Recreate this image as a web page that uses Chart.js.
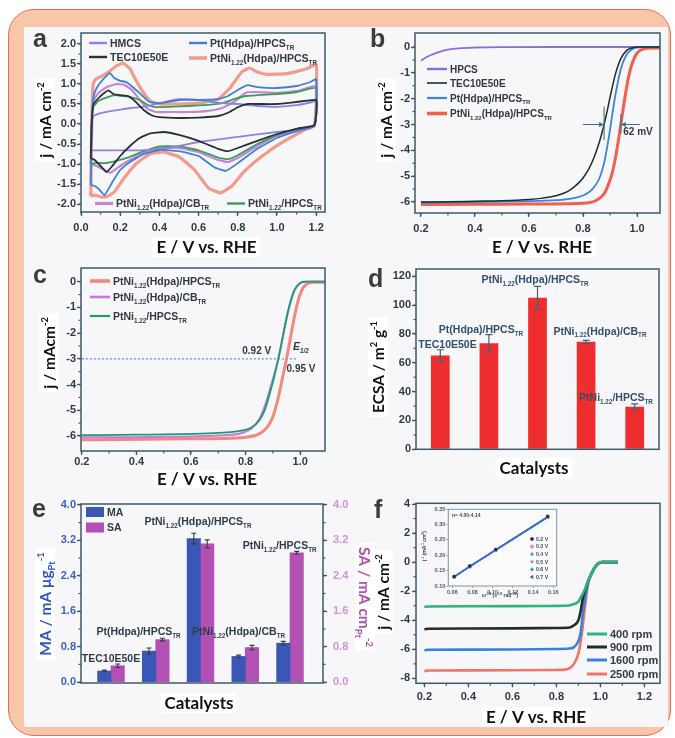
<!DOCTYPE html>
<html lang="en">
<head>
<meta charset="utf-8">
<title>PtNi catalysts – electrochemical characterisation</title>
<script src="https://cdn.jsdelivr.net/npm/chart.js@4.4.1/dist/chart.umd.min.js"></script>
<style>
  html, body { margin: 0; padding: 0; background: #ffffff; }
  body { position: relative; width: 675px; height: 738px; overflow: hidden; }
  #frame { position: absolute; left: 8px; top: 9px; width: 661px; height: 725px;
           border: 1.5px solid #ec6b5b; border-radius: 26px; background: #f8c6a8; }
  #sheet { position: absolute; left: 24px; top: 27px; width: 644px; height: 700px; background: #f7f7f9; }
  canvas { position: absolute; left: 0; top: 0; }
</style>
</head>
<body>
<div id="frame"></div>
<div id="sheet"></div>
<canvas id="panelA" width="675" height="738"></canvas>
<canvas id="panelB" width="675" height="738"></canvas>
<canvas id="panelC" width="675" height="738"></canvas>
<canvas id="panelD" width="675" height="738"></canvas>
<canvas id="panelE" width="675" height="738"></canvas>
<canvas id="panelF" width="675" height="738"></canvas>
<canvas id="panelFinset" width="675" height="738"></canvas>
<script>
// ================= data =================
// (a) cyclic voltammograms, [E / V vs. RHE, j / mA cm-2]: anodic sweep, then cathodic sweep
const cvHMCS = [[0.05,-0.66],[0.053,-0.2],[0.057,0.1],[0.065,0.2],[0.1,0.27],[0.15,0.32],[0.2,0.36],[0.25,0.4],[0.3,0.42],[0.35,0.46],[0.4,0.52],[0.45,0.58],[0.5,0.62],[0.55,0.62],[0.6,0.6],[0.65,0.57],[0.7,0.53],[0.8,0.5],[0.9,0.45],[1.0,0.43],[1.1,0.47],[1.18,0.55],[1.2,0.58],[1.2,0.2],[1.19,-0.04],[1.15,-0.12],[1.0,-0.2],[0.8,-0.32],[0.6,-0.45],[0.45,-0.6],[0.3,-0.66],[0.15,-0.66],[0.05,-0.66]];
const cvTEC = [[0.05,-0.85],[0.053,-0.2],[0.057,0.25],[0.065,0.5],[0.09,0.65],[0.12,0.78],[0.14,0.84],[0.165,0.75],[0.2,0.72],[0.24,0.7],[0.28,0.55],[0.32,0.35],[0.36,0.22],[0.4,0.17],[0.5,0.15],[0.6,0.16],[0.7,0.2],[0.75,0.28],[0.8,0.42],[0.85,0.5],[0.9,0.5],[1.0,0.5],[1.1,0.55],[1.2,0.6],[1.2,0.2],[1.19,-0.03],[1.1,-0.12],[1.0,-0.25],[0.9,-0.42],[0.8,-0.6],[0.75,-0.68],[0.7,-0.62],[0.6,-0.42],[0.5,-0.27],[0.42,-0.2],[0.35,-0.24],[0.3,-0.35],[0.25,-0.55],[0.2,-0.8],[0.16,-1.05],[0.13,-1.2],[0.1,-1.05],[0.07,-0.9],[0.05,-0.85]];
const cvPtHdpa = [[0.05,-1.52],[0.053,-0.5],[0.057,0.3],[0.065,0.7],[0.08,0.9],[0.11,1.1],[0.147,1.27],[0.17,1.15],[0.2,1.08],[0.23,1.05],[0.27,0.9],[0.31,0.72],[0.35,0.55],[0.4,0.52],[0.5,0.6],[0.6,0.6],[0.7,0.62],[0.75,0.7],[0.8,0.85],[0.85,0.97],[0.9,0.92],[1.0,0.9],[1.1,0.95],[1.17,1.05],[1.2,1.12],[1.2,0.3],[1.19,-0.05],[1.1,-0.18],[1.0,-0.35],[0.9,-0.62],[0.8,-0.98],[0.74,-1.17],[0.68,-1.08],[0.6,-0.8],[0.5,-0.68],[0.4,-0.65],[0.32,-0.75],[0.25,-0.95],[0.2,-1.15],[0.16,-1.45],[0.12,-1.78],[0.09,-1.62],[0.07,-1.55],[0.05,-1.52]];
const cvPtNiHPCS = [[0.05,-1.8],[0.053,-0.6],[0.057,0.4],[0.062,1.0],[0.075,1.12],[0.1,1.18],[0.14,1.3],[0.18,1.45],[0.215,1.52],[0.25,1.38],[0.28,1.1],[0.31,0.85],[0.35,0.58],[0.4,0.5],[0.5,0.5],[0.6,0.52],[0.7,0.62],[0.76,0.9],[0.82,1.3],[0.86,1.4],[0.9,1.3],[0.95,1.24],[1.05,1.26],[1.15,1.38],[1.2,1.48],[1.2,0.6],[1.19,-0.05],[1.14,-0.15],[1.02,-0.48],[0.92,-0.82],[0.83,-1.2],[0.77,-1.55],[0.71,-1.72],[0.65,-1.6],[0.58,-1.15],[0.5,-0.82],[0.42,-0.7],[0.35,-0.75],[0.28,-1.0],[0.22,-1.35],[0.17,-1.7],[0.13,-1.82],[0.1,-1.82],[0.07,-1.78],[0.05,-1.8]];
const cvPtNiCB = [[0.05,-1.0],[0.053,-0.3],[0.057,0.3],[0.065,0.6],[0.09,0.78],[0.13,0.92],[0.18,1.0],[0.22,0.98],[0.26,0.85],[0.3,0.6],[0.34,0.38],[0.38,0.3],[0.45,0.3],[0.55,0.3],[0.65,0.33],[0.72,0.4],[0.78,0.55],[0.84,0.78],[0.88,0.8],[1.0,0.78],[1.1,0.82],[1.2,0.95],[1.2,0.3],[1.19,-0.05],[1.1,-0.15],[1.0,-0.3],[0.9,-0.55],[0.8,-0.85],[0.75,-0.95],[0.7,-0.9],[0.6,-0.7],[0.5,-0.6],[0.4,-0.58],[0.32,-0.72],[0.25,-0.9],[0.2,-1.05],[0.15,-1.22],[0.12,-1.15],[0.08,-1.05],[0.05,-1.0]];
const cvPtNiBare = [[0.05,-1.0],[0.053,-0.3],[0.057,0.2],[0.065,0.45],[0.09,0.58],[0.13,0.66],[0.17,0.72],[0.21,0.7],[0.25,0.68],[0.3,0.6],[0.34,0.48],[0.38,0.42],[0.45,0.43],[0.55,0.45],[0.65,0.48],[0.72,0.52],[0.78,0.62],[0.84,0.7],[0.9,0.72],[1.0,0.75],[1.1,0.8],[1.2,0.9],[1.2,0.3],[1.19,-0.05],[1.1,-0.12],[1.0,-0.27],[0.9,-0.5],[0.8,-0.78],[0.75,-0.88],[0.7,-0.84],[0.6,-0.66],[0.5,-0.56],[0.4,-0.56],[0.32,-0.68],[0.25,-0.82],[0.18,-0.92],[0.12,-0.98],[0.08,-0.97],[0.05,-1.0]];

// (b) ORR polarisation curves at 1600 rpm, [E, j]
const orrHPCS = [[0.2,-0.53],[0.22,-0.4],[0.24,-0.3],[0.26,-0.22],[0.28,-0.15],[0.3,-0.1],[0.34,-0.05],[0.4,-0.02],[0.5,-0.005],[0.7,0],[1.085,0]];
const orrTEC = [[0.2,-6.0],[0.3,-5.99],[0.4,-5.97],[0.5,-5.95],[0.6,-5.9],[0.65,-5.85],[0.7,-5.76],[0.75,-5.55],[0.78,-5.3],[0.8,-5.07],[0.82,-4.75],[0.84,-4.3],[0.86,-3.7],[0.878,-3.0],[0.89,-2.45],[0.9,-1.95],[0.92,-1.05],[0.94,-0.45],[0.96,-0.15],[0.98,-0.04],[1.0,0],[1.085,0]];
const orrPtHdpa = [[0.2,-6.02],[0.4,-6.0],[0.6,-5.97],[0.7,-5.93],[0.75,-5.88],[0.8,-5.75],[0.83,-5.55],[0.86,-5.1],[0.88,-4.4],[0.9,-3.2],[0.91,-2.5],[0.92,-1.85],[0.94,-0.85],[0.96,-0.32],[0.98,-0.1],[1.0,-0.02],[1.02,0],[1.085,0]];
const orrPtNiHPCS = [[0.2,-6.1],[0.4,-6.09],[0.6,-6.08],[0.8,-6.05],[0.85,-5.93],[0.88,-5.65],[0.9,-5.15],[0.91,-4.8],[0.92,-4.3],[0.93,-3.68],[0.94,-3.0],[0.95,-2.3],[0.96,-1.65],[0.97,-1.1],[0.98,-0.7],[1.0,-0.24],[1.02,-0.09],[1.04,-0.05],[1.085,-0.04]];
const halfWaveB = [0.878, 0.940];   // E1/2 of TEC10E50E and PtNi1.22(Hdpa)/HPCS (62 mV apart)
const halfWaveCurrentB = -3;

// (c) ORR curves of the PtNi samples, [E, j]
const orrCPtNiHPCS = [[0.2,-6.15],[0.35,-6.14],[0.5,-6.12],[0.6,-6.11],[0.7,-6.1],[0.8,-6.05],[0.85,-5.92],[0.88,-5.65],[0.9,-5.25],[0.92,-4.5],[0.935,-3.75],[0.95,-3.0],[0.965,-2.15],[0.98,-1.3],[0.995,-0.65],[1.01,-0.25],[1.03,-0.06],[1.05,-0.02],[1.09,-0.02]];
const orrCPtNiCB = [[0.2,-6.05],[0.35,-6.05],[0.5,-6.03],[0.6,-6.02],[0.7,-5.98],[0.78,-5.9],[0.82,-5.72],[0.85,-5.35],[0.87,-4.85],[0.89,-4.15],[0.905,-3.6],[0.92,-3.0],[0.935,-2.25],[0.95,-1.45],[0.965,-0.8],[0.98,-0.33],[1.0,-0.06],[1.02,0],[1.09,0]];
const orrCPtNiBare = [[0.2,-5.97],[0.4,-5.95],[0.6,-5.92],[0.7,-5.88],[0.78,-5.8],[0.82,-5.68],[0.85,-5.4],[0.87,-5.0],[0.89,-4.3],[0.905,-3.7],[0.92,-3.0],[0.935,-2.2],[0.95,-1.4],[0.965,-0.75],[0.98,-0.3],[1.0,-0.05],[1.02,0],[1.09,0]];
const halfWaveLineE = [0.2, 0.99];
const halfWaveLineJ = -3;

// (d) electrochemically active surface area
const catalysts = ['TEC10E50E', 'Pt(Hdpa)/HPCS_{TR}', 'PtNi_{1.22}(Hdpa)/HPCS_{TR}', 'PtNi_{1.22}(Hdpa)/CB_{TR}', 'PtNi_{1.22}/HPCS_{TR}'];
const ecsa = [65, 73.5, 105, 74.5, 29.5];
const ecsaErr = [4, 6, 8, 1, 2];

// (e) mass activity (mA ugPt-1) and specific activity (mA cmPt-2)
const massAct = [0.25, 0.70, 3.24, 0.58, 0.88];
const massErr = [0.02, 0.07, 0.12, 0.03, 0.04];
const specAct = [0.37, 0.96, 3.12, 0.78, 2.92];
const specErr = [0.04, 0.03, 0.09, 0.05, 0.03];

// (f) rotating-disk polarisation curves, [E, j]
const rpmLabels = ['400 rpm', '900 rpm', '1600 rpm', '2500 rpm'];
const rde400 = [[0.2,-3.08],[0.22,-3.05],[0.4,-3.04],[0.6,-3.03],[0.8,-3.01],[0.84,-3.0],[0.87,-2.93],[0.9,-2.72],[0.915,-2.3],[0.93,-1.85],[0.945,-1.26],[0.96,-0.8],[0.976,-0.34],[0.99,-0.1],[1.006,0],[1.08,0]];
const rde900 = [[0.2,-4.62],[0.22,-4.58],[0.4,-4.57],[0.6,-4.56],[0.8,-4.53],[0.86,-4.5],[0.88,-4.35],[0.9,-4.0],[0.91,-3.4],[0.92,-2.5],[0.935,-1.7],[0.945,-1.26],[0.96,-0.8],[0.976,-0.34],[0.99,-0.1],[1.006,0],[1.08,0]];
const rde1600 = [[0.2,-6.07],[0.22,-6.03],[0.4,-6.02],[0.6,-6.01],[0.8,-5.98],[0.86,-5.95],[0.88,-5.85],[0.9,-5.45],[0.91,-4.9],[0.92,-3.6],[0.93,-2.5],[0.945,-1.4],[0.96,-0.8],[0.976,-0.34],[0.99,-0.1],[1.006,0],[1.08,0]];
const rde2500 = [[0.2,-7.5],[0.22,-7.46],[0.4,-7.45],[0.6,-7.44],[0.8,-7.42],[0.84,-7.4],[0.86,-7.3],[0.88,-7.0],[0.9,-6.3],[0.91,-5.5],[0.92,-4.4],[0.93,-3.1],[0.94,-1.9],[0.95,-1.1],[0.965,-0.6],[0.98,-0.28],[0.995,-0.08],[1.01,0],[1.08,0]];

// (f, inset) Koutecky-Levich plots: w^-1/2 versus j^-1 at six potentials
const klOmega = [0.0618, 0.0773, 0.1030, 0.1545];
const klPotentials = ['0.2 V', '0.3 V', '0.4 V', '0.5 V', '0.6 V', '0.7 V'];
const kl02 = [0.131, 0.165, 0.219, 0.327];
const kl03 = [0.130, 0.164, 0.218, 0.326];
const kl04 = [0.130, 0.164, 0.218, 0.325];
const kl05 = [0.129, 0.164, 0.217, 0.325];
const kl06 = [0.129, 0.163, 0.217, 0.324];
const kl07 = [0.128, 0.163, 0.216, 0.323];

// tick values
const ticksAx = [0, 0.2, 0.4, 0.6, 0.8, 1.0, 1.2];
const ticksAy = [-2, -1.5, -1, -0.5, 0, 0.5, 1, 1.5, 2];
const ticksBx = [0.2, 0.4, 0.6, 0.8, 1.0];
const ticksBy = [-6, -5, -4, -3, -2, -1, 0];
const ticksDy = [0, 20, 40, 60, 80, 100, 120];
const ticksEy = [0, 0.8, 1.6, 2.4, 3.2, 4.0];
const ticksFx = [0.2, 0.4, 0.6, 0.8, 1.0, 1.2];
const ticksFy = [-8, -6, -4, -2, 0, 2, 4];
const ticksInsetX = [0.06, 0.08, 0.10, 0.12, 0.14, 0.16];
const ticksInsetY = [0.10, 0.15, 0.20, 0.25, 0.30, 0.35];

// ================= drawing =================
const W = 675, H = 738;
const SANS = '"Liberation Sans", Arial, Helvetica, sans-serif';
const TITLE = 'Lato, "Open Sans", "DejaVu Sans", sans-serif';
const INK = '#2f3b40';
const FRAME = '#3d5a66';
const LETTER = '#3c3c3c';

// text with _{sub} and ^{sup} runs
function parseRich(s) {
  const out = []; let cur = ''; let i = 0;
  while (i < s.length) {
    const c = s[i];
    if ((c === '_' || c === '^') && s[i + 1] === '{') {
      if (cur) { out.push({ t: cur, k: 0 }); cur = ''; }
      const j = s.indexOf('}', i);
      out.push({ t: s.slice(i + 2, j), k: c === '_' ? -1 : 1 });
      i = j + 1;
    } else { cur += c; i++; }
  }
  if (cur) out.push({ t: cur, k: 0 });
  return out;
}

function drawRich(ctx, it) {
  const size = it.size || 10.5;
  const fam = it.family || SANS;
  const small = size * 0.6;
  const font = k => (it.italic ? 'italic ' : '') + 'bold ' + (k ? small : size) + 'px ' + fam;
  const segs = parseRich(it.s);
  let w = 0;
  segs.forEach(g => { ctx.font = font(g.k); g.w = ctx.measureText(g.t).width; w += g.w; });
  ctx.save();
  ctx.translate(it.x, it.y);
  if (it.rot) ctx.rotate(it.rot * Math.PI / 180);
  let x0 = it.align === 'left' ? 0 : it.align === 'right' ? -w : -w / 2;
  if (it.box) {
    ctx.fillStyle = '#ffffff';
    ctx.fillRect(x0 - it.box[0], -it.box[1] / 2, w + 2 * it.box[0], it.box[1]);
  }
  ctx.fillStyle = it.color || INK;
  ctx.textBaseline = 'alphabetic';
  ctx.textAlign = 'left';
  const base = it.bl ? 0 : size * 0.36;
  segs.forEach(g => {
    ctx.font = font(g.k);
    const dy = g.k === -1 ? size * 0.26 : g.k === 1 ? -size * 0.4 : 0;
    ctx.fillText(g.t, x0, base + dy);
    x0 += g.w;
  });
  ctx.restore();
}

function axis(pos, min, max, vals, dec, o) {
  o = o || {};
  const vertical = pos === 'left' || pos === 'right';
  const a = {
    type: o.type || 'linear', position: pos, min: min, max: max, offset: !!o.offset,
    afterBuildTicks: s => { if (vals) s.ticks = vals.map(v => ({ value: v })); },
    afterFit: s => { if (vertical) s.width = o.size; else s.height = o.size; },
    border: { display: false },
    grid: { display: !o.noTicks, drawOnChartArea: false, drawTicks: true, tickLength: o.tl || 4,
            color: o.frame || FRAME, tickColor: o.frame || FRAME, tickWidth: o.tw || 1.3, offset: false },
    ticks: { display: !o.noLabels, autoSkip: false, maxRotation: 0, minRotation: 0,
             padding: o.pad != null ? o.pad : (vertical ? 1 : 5), color: o.color || INK,
             font: { family: SANS, size: o.fs || 11, weight: 'bold' },
             callback: v => Number(v).toFixed(dec) }
  };
  Object.keys(a).forEach(k => { if (a[k] === undefined) delete a[k]; });
  return a;
}

function baseOptions(rect, scales, rightAxis) {
  return {
    responsive: false, animation: false, events: [], devicePixelRatio: 1,
    layout: { padding: { left: 0, top: rect[1], right: rightAxis ? 0 : W - rect[2], bottom: 0 } },
    scales: scales,
    plugins: { legend: { display: false }, tooltip: { enabled: false } },
    elements: { point: { radius: 0 } }
  };
}

// box round the plot and minor ticks
function frame(color, width, minor, fill) {
  return {
    id: 'frame',
    beforeDatasetsDraw(chart) {
      if (!fill) return;
      const a = chart.chartArea, ctx = chart.ctx;
      ctx.save(); ctx.fillStyle = fill;
      ctx.fillRect(a.left, a.top, a.right - a.left, a.bottom - a.top); ctx.restore();
    },
    afterDraw(chart) {
      const ctx = chart.ctx, a = chart.chartArea;
      ctx.save();
      ctx.strokeStyle = color; ctx.lineWidth = width;
      ctx.strokeRect(a.left, a.top, a.right - a.left, a.bottom - a.top);
      ctx.lineWidth = 1.2;
      (minor || []).forEach(m => {
        const s = chart.scales[m.id];
        const n = Math.round((m.to - m.from) / m.step);
        for (let k = 0; k <= n; k++) {
          const p = s.getPixelForValue(m.from + k * m.step);
          ctx.beginPath();
          if (s.position === 'bottom') { ctx.moveTo(p, a.bottom); ctx.lineTo(p, a.bottom + 2.5); }
          else if (s.position === 'left') { ctx.moveTo(a.left, p); ctx.lineTo(a.left - 2.5, p); }
          else { ctx.moveTo(a.right, p); ctx.lineTo(a.right + 2.5, p); }
          ctx.stroke();
        }
      });
      ctx.restore();
    }
  };
}

function textLayer(items) {
  return {
    id: 'textLayer',
    afterDraw(chart) {
      items.forEach(it => {
        const p = Object.assign({}, it);
        if (it.xv != null) p.x = chart.scales[it.sx || 'x'].getPixelForValue(it.xv);
        if (it.yv != null) p.y = chart.scales[it.sy || 'y'].getPixelForValue(it.yv);
        drawRich(chart.ctx, p);
      });
    }
  };
}

function legendLayer(entries, size) {
  return {
    id: 'legendLayer',
    afterDraw(chart) {
      const ctx = chart.ctx;
      entries.forEach(e => {
        const ds = chart.data.datasets[e.i];
        ctx.save();
        ctx.strokeStyle = ds.borderColor; ctx.lineWidth = e.w;
        ctx.beginPath(); ctx.moveTo(e.x, e.y); ctx.lineTo(e.x + e.len, e.y); ctx.stroke();
        ctx.restore();
        drawRich(ctx, { s: ds.label, x: e.x + e.len + 3, y: e.y, size: size, align: 'left', color: INK });
      });
    }
  };
}

function swatchLegend(entries, size) {
  return {
    id: 'swatchLegend',
    afterDraw(chart) {
      const ctx = chart.ctx;
      entries.forEach(e => {
        const ds = chart.data.datasets[e.i];
        ctx.fillStyle = ds.backgroundColor;
        ctx.fillRect(e.x, e.y - e.h / 2, e.wd, e.h);
        drawRich(ctx, { s: ds.label, x: e.x + e.wd + 3, y: e.y, size: size, align: 'left', color: INK });
      });
    }
  };
}

function markerLegend(entries, size) {
  return {
    id: 'markerLegend',
    afterDraw(chart) {
      const ctx = chart.ctx;
      entries.forEach(e => {
        const ds = chart.data.datasets[e.i];
        ctx.save();
        ctx.fillStyle = ds.pointBackgroundColor; ctx.strokeStyle = ds.pointBorderColor; ctx.lineWidth = 0.8;
        if (Chart.helpers && Chart.helpers.drawPoint) {
          Chart.helpers.drawPoint(ctx, { pointStyle: ds.pointStyle, radius: 1.7, rotation: ds.pointRotation || 0, borderWidth: 0.8 }, e.x, e.y);
        } else { ctx.fillRect(e.x - 1.5, e.y - 1.5, 3, 3); }
        ctx.restore();
        drawRich(ctx, { s: ds.label, x: e.x + 4, y: e.y, size: size, align: 'left', color: '#3a4a52' });
      });
    }
  };
}

function errorLayer(specs) {
  return {
    id: 'errorLayer',
    afterDatasetsDraw(chart) {
      const ctx = chart.ctx;
      specs.forEach(sp => {
        const meta = chart.getDatasetMeta(sp.ds);
        const ys = chart.scales[meta.yAxisID];
        meta.data.forEach((bar, i) => {
          const hi = ys.getPixelForValue(sp.vals[i] + sp.err[i]);
          const lo = ys.getPixelForValue(sp.vals[i] - sp.err[i]);
          ctx.save();
          ctx.strokeStyle = sp.color; ctx.lineWidth = sp.lw;
          ctx.beginPath();
          ctx.moveTo(bar.x, hi); ctx.lineTo(bar.x, lo);
          ctx.moveTo(bar.x - sp.cap, hi); ctx.lineTo(bar.x + sp.cap, hi);
          ctx.moveTo(bar.x - sp.cap, lo); ctx.lineTo(bar.x + sp.cap, lo);
          ctx.stroke();
          ctx.restore();
        });
      });
    }
  };
}

const toXY = pts => pts.map(p => ({ x: p[0], y: p[1] }));
const titleItem = (s, x, y, rot, color, h) => ({ s: s, x: x, y: y, rot: rot || 0, size: rot ? 15.5 : 17, family: TITLE, color: color || '#111111', box: [4, h || 20] });
const letterItem = (s, x, y) => ({ s: s, x: x, y: y, size: 25, color: LETTER, align: 'left', bl: true });

// ---------- (a) CV ----------
const rectA = [81, 33, 325, 212];
const seriesA = [
  { label: 'TEC10E50E', pts: cvTEC, color: '#25342f', w: 1.8 },
  { label: 'Pt(Hdpa)/HPCS_{TR}', pts: cvPtHdpa, color: '#3b80da', w: 1.8 },
  { label: 'HMCS', pts: cvHMCS, color: '#8e82e6', w: 1.8 },
  { label: 'PtNi_{1.22}/HPCS_{TR}', pts: cvPtNiBare, color: '#3c9c5e', w: 1.8 },
  { label: 'PtNi_{1.22}(Hdpa)/CB_{TR}', pts: cvPtNiCB, color: '#c584d8', w: 2.2 },
  { label: 'PtNi_{1.22}(Hdpa)/HPCS_{TR}', pts: cvPtNiHPCS, color: '#f29b8d', w: 3.2 }
];
new Chart('panelA', {
  type: 'line',
  data: { datasets: seriesA.map(s => ({ label: s.label, data: toXY(s.pts), borderColor: s.color, borderWidth: s.w, tension: 0.12, fill: false, pointRadius: 0 })) },
  options: baseOptions(rectA, {
    x: axis('bottom', 0, 1.245, ticksAx, 1, { size: H - rectA[3] }),
    y: axis('left', -2.2, 2.275, ticksAy, 1, { size: rectA[0] })
  }),
  plugins: [
    frame(FRAME, 1.5, [{ id: 'x', from: 0, to: 1.2, step: 0.1 }, { id: 'y', from: -2, to: 2, step: 0.25 }]),
    legendLayer([
      { i: 2, x: 89, y: 43, len: 18, w: 2.4 },
      { i: 0, x: 89, y: 57, len: 18, w: 2.4 },
      { i: 1, x: 189, y: 43, len: 18, w: 2.4 },
      { i: 5, x: 189, y: 58, len: 18, w: 3.6 },
      { i: 4, x: 95, y: 203.5, len: 18, w: 3.2 },
      { i: 3, x: 227, y: 203.5, len: 18, w: 2.4 }
    ], 10.5),
    textLayer([
      letterItem('a', 33, 47),
      titleItem('E / V vs. RHE', 206.5, 247),
      titleItem('j / mA cm^{-2}', 45, 120, -90)
    ])
  ]
});

// ---------- (b) ORR ----------
const rectB = [415, 33, 660, 213];
const seriesB = [
  { label: 'TEC10E50E', pts: orrTEC, color: '#1f2d2a', w: 1.5 },
  { label: 'Pt(Hdpa)/HPCS_{TR}', pts: orrPtHdpa, color: '#3a86da', w: 1.8 },
  { label: 'HPCS', pts: orrHPCS, color: '#8a6ee0', w: 1.8 },
  { label: 'PtNi_{1.22}(Hdpa)/HPCS_{TR}', pts: orrPtNiHPCS, color: '#f0604f', w: 3 }
];
const arrowLayerB = {
  id: 'arrowLayer',
  afterDatasetsDraw(chart) {
    const xs = chart.scales.x, ys = chart.scales.y, ctx = chart.ctx;
    const yp = ys.getPixelForValue(halfWaveCurrentB);
    const xl = xs.getPixelForValue(halfWaveB[0]), xr = xs.getPixelForValue(halfWaveB[1]);
    ctx.save();
    ctx.strokeStyle = '#3b7285'; ctx.fillStyle = '#3b7285'; ctx.lineWidth = 1.1;
    ctx.beginPath();
    ctx.moveTo(xl - 21, yp); ctx.lineTo(xl - 3, yp);
    ctx.moveTo(xr + 19, yp); ctx.lineTo(xr + 3, yp);
    ctx.moveTo(xl, ys.getPixelForValue(-2.3)); ctx.lineTo(xl, ys.getPixelForValue(-3.6));
    ctx.moveTo(xr, ys.getPixelForValue(-2.6)); ctx.lineTo(xr, ys.getPixelForValue(-3.35));
    ctx.stroke();
    ctx.beginPath(); ctx.moveTo(xl, yp); ctx.lineTo(xl - 5, yp - 2.5); ctx.lineTo(xl - 5, yp + 2.5); ctx.closePath(); ctx.fill();
    ctx.beginPath(); ctx.moveTo(xr, yp); ctx.lineTo(xr + 5, yp - 2.5); ctx.lineTo(xr + 5, yp + 2.5); ctx.closePath(); ctx.fill();
    ctx.restore();
  }
};
new Chart('panelB', {
  type: 'line',
  data: { datasets: seriesB.map(s => ({ label: s.label, data: toXY(s.pts), borderColor: s.color, borderWidth: s.w, cubicInterpolationMode: 'monotone', fill: false, pointRadius: 0 })) },
  options: baseOptions(rectB, {
    x: axis('bottom', 0.178, 1.085, ticksBx, 1, { size: H - rectB[3] }),
    y: axis('left', -6.426, 0.542, ticksBy, 0, { size: rectB[0] })
  }),
  plugins: [
    arrowLayerB,
    frame(FRAME, 1.5, [{ id: 'x', from: 0.2, to: 1.0, step: 0.1 }, { id: 'y', from: -6, to: 0, step: 0.5 }]),
    legendLayer([
      { i: 2, x: 427, y: 69, len: 20, w: 2.4 },
      { i: 0, x: 427, y: 83, len: 20, w: 1.6 },
      { i: 1, x: 427, y: 98, len: 20, w: 2.2 },
      { i: 3, x: 427, y: 113.5, len: 20, w: 3.6 }
    ], 10),
    textLayer([
      letterItem('b', 370, 47),
      titleItem('E / V vs. RHE', 542, 247),
      titleItem('j / mA cm^{-2}', 386, 120, -90),
      { s: '62 mV', x: 638, y: 131.7, size: 10, color: INK }
    ])
  ]
});

// ---------- (c) ORR of PtNi catalysts ----------
const rectC = [81, 268, 325, 451];
const seriesC = [
  { label: 'PtNi_{1.22}/HPCS_{TR}', pts: orrCPtNiBare, color: '#1e9b72', w: 1.8 },
  { label: 'PtNi_{1.22}(Hdpa)/CB_{TR}', pts: orrCPtNiCB, color: '#c77ad6', w: 2 },
  { label: 'PtNi_{1.22}(Hdpa)/HPCS_{TR}', pts: orrCPtNiHPCS, color: '#f08a7c', w: 3 }
];
const dsC = seriesC.map(s => ({ label: s.label, data: toXY(s.pts), borderColor: s.color, borderWidth: s.w, cubicInterpolationMode: 'monotone', fill: false, pointRadius: 0 }));
dsC.push({ label: 'E1/2', data: halfWaveLineE.map(e => ({ x: e, y: halfWaveLineJ })), borderColor: '#5bb8dc', borderWidth: 1.6, borderDash: [2, 2], fill: false, pointRadius: 0 });
new Chart('panelC', {
  type: 'line',
  data: { datasets: dsC },
  options: baseOptions(rectC, {
    x: axis('bottom', 0.197, 1.091, ticksBx, 1, { size: H - rectC[3], pad: 0 }),
    y: axis('left', -6.584, 0.533, ticksBy, 0, { size: rectC[0] })
  }),
  plugins: [
    frame(FRAME, 1.5, [{ id: 'x', from: 0.2, to: 1.0, step: 0.1 }, { id: 'y', from: -6, to: 0, step: 0.5 }]),
    legendLayer([
      { i: 2, x: 90, y: 281, len: 20, w: 3.6 },
      { i: 1, x: 90, y: 297, len: 20, w: 2.6 },
      { i: 0, x: 90, y: 316, len: 20, w: 2.2 }
    ], 10.5),
    textLayer([
      letterItem('c', 33, 283),
      titleItem('E / V vs. RHE', 207, 479, 0, null, 18),
      titleItem('j / mAcm^{-2}', 49, 353, -90),
      { s: '0.92 V', x: 256.7, y: 350, size: 10, color: INK },
      { s: 'E_{1/2}', x: 293, y: 346, size: 10.5, color: INK, align: 'left', italic: true },
      { s: '0.95 V', x: 301, y: 368, size: 10, color: INK }
    ])
  ]
});

// ---------- (d) ECSA ----------
const rectD = [416, 269, 659, 449.3];
const labelPosD = [[0.148, 72.6], [0.837, 83.4], [1.949, 117.9], [3.286, 82.2], [3.615, 35.8]];
new Chart('panelD', {
  type: 'bar',
  data: { labels: catalysts, datasets: [{ label: 'ECSA', data: ecsa, backgroundColor: '#ee2e2e', borderWidth: 0, categoryPercentage: 1, barPercentage: 0.385 }] },
  options: baseOptions(rectD, {
    x: axis('bottom', undefined, undefined, null, 0, { type: 'category', offset: true, size: H - rectD[3], noTicks: true, noLabels: true }),
    y: axis('left', 0, 125, ticksDy, 0, { size: rectD[0] })
  }),
  plugins: [
    errorLayer([{ ds: 0, vals: ecsa, err: ecsaErr, color: '#3e6478', lw: 1.2, cap: 3.5 }]),
    frame(FRAME, 1.5, [{ id: 'y', from: 0, to: 120, step: 10 }]),
    textLayer(catalysts.map((c, i) => ({ s: c, xv: labelPosD[i][0], yv: labelPosD[i][1], size: 10.5, color: '#34506a' })).concat([
      letterItem('d', 368, 287),
      titleItem('Catalysts', 534, 468),
      titleItem('ECSA / m^{2} g^{-1}', 378, 367, -90)
    ]))
  ]
});

// ---------- (e) MA / SA ----------
const rectE = [81, 504, 323, 683];
const groupIdx = catalysts.map((c, i) => i);
const labelPosE = [[0, 0.53], [0.615, 1.14], [1.944, 3.625], [2.85, 1.14], [3.77, 3.09]];
new Chart('panelE', {
  type: 'bar',
  data: { datasets: [
    { label: 'MA', data: groupIdx.map(i => ({ x: i, y: massAct[i] })), backgroundColor: '#3a57b7', borderWidth: 0, yAxisID: 'y', barThickness: 13.4 },
    { label: 'SA', data: groupIdx.map(i => ({ x: i, y: specAct[i] })), backgroundColor: '#b350b3', borderWidth: 0, yAxisID: 'y2', barThickness: 13.4 }
  ] },
  options: baseOptions(rectE, {
    x: axis('bottom', -0.67, 4.737, groupIdx, 0, { size: H - rectE[3], noTicks: true, noLabels: true }),
    y: axis('left', -0.02, 4.02, ticksEy, 1, { size: rectE[0], color: '#3a62c8' }),
    y2: axis('right', -0.02, 4.02, ticksEy, 1, { size: W - rectE[2], color: '#d095d4', pad: 6 })
  }, true),
  plugins: [
    errorLayer([
      { ds: 0, vals: massAct, err: massErr, color: '#333d45', lw: 1.1, cap: 2.5 },
      { ds: 1, vals: specAct, err: specErr, color: '#333d45', lw: 1.1, cap: 2.5 }
    ]),
    frame(FRAME, 1.5, [{ id: 'y', from: 0, to: 4, step: 0.4 }, { id: 'y2', from: 0, to: 4, step: 0.4 }]),
    swatchLegend([{ i: 0, x: 86, y: 512, wd: 18, h: 10 }, { i: 1, x: 86, y: 527.5, wd: 18, h: 10 }], 10.5),
    textLayer(catalysts.map((c, i) => ({ s: c, xv: labelPosE[i][0], yv: labelPosE[i][1], size: 10.5, color: '#2f3d4a' })).concat([
      letterItem('e', 32, 517),
      titleItem('Catalysts', 199, 703),
      titleItem('MA / mA μg_{Pt}^{-1}', 45, 604, -90, '#2f55c2'),
      titleItem('SA / mA cm_{Pt}^{-2}', 365, 597, 90, '#b24caf')
    ]))
  ]
});

// ---------- (f) RDE at different rotation rates ----------
const rectF = [416, 503.3, 660, 683.3];
const seriesF = [
  { pts: rde400, color: '#2db57c' },
  { pts: rde900, color: '#1f2e2a' },
  { pts: rde1600, color: '#3b80e0' },
  { pts: rde2500, color: '#f07563' }
];
new Chart('panelF', {
  type: 'line',
  data: { datasets: seriesF.map((s, i) => ({ label: rpmLabels[i], data: toXY(s.pts), borderColor: s.color, borderWidth: 2.6, cubicInterpolationMode: 'monotone', fill: false, pointRadius: 0 })) },
  options: baseOptions(rectF, {
    x: axis('bottom', 0.162, 1.271, ticksFx, 1, { size: H - rectF[3], pad: 3 }),
    y: axis('left', -8.34, 4.05, ticksFy, 0, { size: rectF[0], pad: 2 })
  }),
  plugins: [
    frame(FRAME, 1.5, [{ id: 'x', from: 0.2, to: 1.2, step: 0.1 }, { id: 'y', from: -8, to: 4, step: 1 }]),
    legendLayer([
      { i: 0, x: 587, y: 634, len: 20, w: 3 },
      { i: 1, x: 587, y: 647, len: 20, w: 3 },
      { i: 2, x: 587, y: 660, len: 20, w: 3 },
      { i: 3, x: 587, y: 674, len: 20, w: 3 }
    ], 11),
    textLayer([
      letterItem('f', 374, 518),
      titleItem('E / V vs. RHE', 536, 717),
      titleItem('j / mA cm^{-2}', 383, 592, -90)
    ])
  ]
});

// ---------- (f) inset: Koutecky-Levich ----------
const rectIn = [448.3, 509.3, 556.7, 586];
const klSeries = [kl02, kl03, kl04, kl05, kl06, kl07];
const klMarkers = [
  { style: 'rect', color: '#1d2b3a', rot: 0 },
  { style: 'circle', color: '#e58fb0', rot: 0 },
  { style: 'triangle', color: '#4a8fe0', rot: 0 },
  { style: 'triangle', color: '#b07ad8', rot: 180 },
  { style: 'rectRot', color: '#2aa070', rot: 0 },
  { style: 'triangle', color: '#2d5fc0', rot: 270 }
];
new Chart('panelFinset', {
  type: 'line',
  data: { datasets: klSeries.map((ys, k) => ({
    label: klPotentials[k], data: klOmega.map((x, i) => ({ x: x, y: ys[i] })),
    borderColor: '#3c6fcf', borderWidth: 1.1, tension: 0, fill: false,
    pointRadius: 1.7, pointStyle: klMarkers[k].style, pointRotation: klMarkers[k].rot,
    pointBackgroundColor: klMarkers[k].color, pointBorderColor: klMarkers[k].color, pointBorderWidth: 0.6
  })) },
  options: baseOptions(rectIn, {
    x: axis('bottom', 0.056, 0.1634, ticksInsetX, 2, { size: H - rectIn[3], fs: 5.5, tl: 2, tw: 0.8, pad: 1, frame: '#7d97a5', color: '#4a5a60' }),
    y: axis('left', 0.10, 0.35, ticksInsetY, 2, { size: rectIn[0], fs: 5.5, tl: 2, tw: 0.8, pad: 1, frame: '#7d97a5', color: '#4a5a60' })
  }),
  plugins: [
    frame('#7d97a5', 1, [], '#fbfbfc'),
    markerLegend(klPotentials.map((p, k) => ({ i: k, x: 532, y: 539 + k * 7.6 })), 5.2),
    textLayer([
      { s: 'n= 4.00-4.14', x: 452, y: 515, size: 5, align: 'left', color: '#3a4a52' },
      { s: 'j^{-1} (mA^{-1} cm^{2})', x: 424.5, y: 546, size: 5, rot: -90, color: '#3a4a52' },
      { s: 'ω^{-1/2} (s^{-1/2} rad^{-1/2})', x: 500, y: 595, size: 5, color: '#3a4a52' }
    ])
  ]
});
</script>
</body>
</html>
